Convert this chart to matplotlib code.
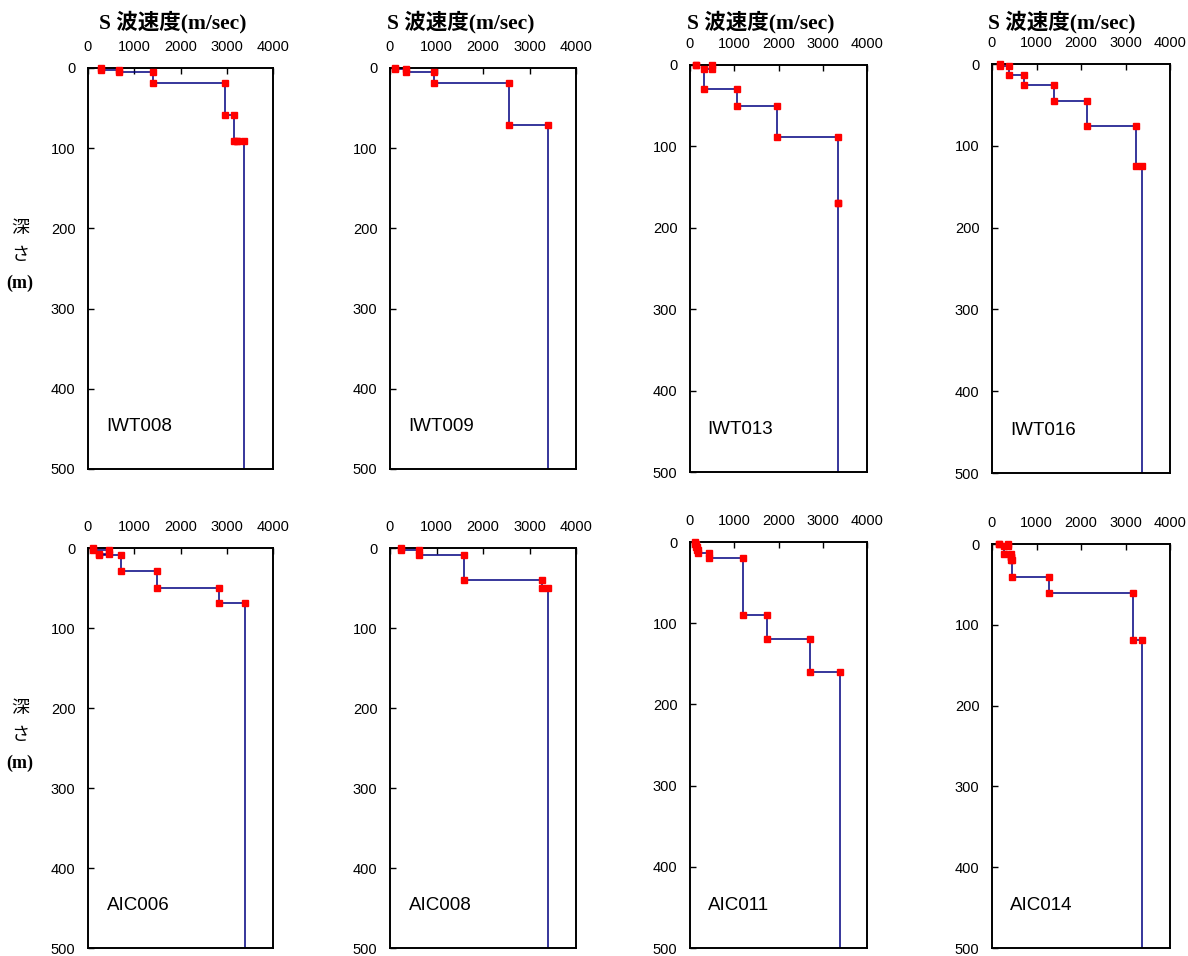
import matplotlib
matplotlib.use("Agg")
import matplotlib.pyplot as plt

plt.rcParams['font.family'] = ['Liberation Sans', 'Noto Sans CJK JP']

# S-wave logging: layer velocities (m/sec) and layer boundaries (m)
stations = ['IWT008', 'IWT009', 'IWT013', 'IWT016',
            'AIC006', 'AIC008', 'AIC011', 'AIC014']

iwt008_vs = [290, 680, 1400, 2960, 3150, 3220, 3380]
iwt008_depth = [0, 2, 5, 18.5, 59, 91, 91.5, 500]

iwt009_vs = [110, 350, 955, 2550, 3390]
iwt009_depth = [0, 1.7, 5, 18.5, 70.5, 500]

iwt013_vs = [140, 490, 317, 1060, 1960, 3350, 3350]
iwt013_depth = [0, 0.5, 5, 30, 50, 89, 170, 500]

iwt016_vs = [188, 375, 713, 1388, 2139, 3227, 3370]
iwt016_depth = [0, 2.8, 14, 25.5, 45, 75.7, 124.3, 500]

aic006_vs = [100, 450, 230, 715, 1490, 2830, 3390]
aic006_depth = [0, 2, 7, 8.5, 28.7, 49.8, 69.2, 500]

aic008_vs = [230, 618, 1587, 3260, 3390]
aic008_depth = [0, 3, 9.2, 39.5, 49.6, 500]

aic011_vs = [110, 130, 160, 175, 438, 1192, 1736, 2702, 3396]
aic011_depth = [0, 2, 6, 10, 13.6, 19.5, 89.3, 119.3, 160.5, 500]

aic014_vs = [157, 360, 263, 420, 436, 445, 1280, 3160, 3377]
aic014_depth = [0, 0.5, 2, 12, 16, 20, 40.5, 60.4, 119.2, 500]

profiles = [(iwt008_vs, iwt008_depth), (iwt009_vs, iwt009_depth),
            (iwt013_vs, iwt013_depth), (iwt016_vs, iwt016_depth),
            (aic006_vs, aic006_depth), (aic008_vs, aic008_depth),
            (aic011_vs, aic011_depth), (aic014_vs, aic014_depth)]

vs_ticks = [0, 1000, 2000, 3000, 4000]
depth_ticks = [0, 100, 200, 300, 400, 500]

W, H = 1188, 956
# axes boxes in pixels: left, right, top, bottom
boxes = [(88, 273, 68, 469), (390, 576, 68, 469),
         (690, 867, 65, 472), (992, 1170, 64, 473),
         (88, 273, 548, 948), (390, 576, 548, 948),
         (690, 867, 542, 948), (992, 1170, 544, 948)]
title_x = [173, 461, 761, 1062]


def steps(vs, depth):
    x, y = [], []
    for i, v in enumerate(vs):
        x += [v, v]
        y += [depth[i], depth[i + 1]]
    return x, y


fig = plt.figure(figsize=(W / 100, H / 100), dpi=100)

for i, (name, (vs, depth), (l, r, t, b)) in enumerate(zip(stations, profiles, boxes)):
    ax = fig.add_axes([l / W, 1 - b / H, (r - l) / W, (b - t) / H])
    x, y = steps(vs, depth)
    ax.plot(x, y, color='#000080', lw=1.1, zorder=2)
    ax.plot(x[:-1], y[:-1], 's', color='red', mec='red', ms=4.5,
            zorder=3, clip_on=False)
    ax.set_xlim(0, 4000)
    ax.set_ylim(500, 0)
    ax.set_xticks(vs_ticks)
    ax.set_yticks(depth_ticks)
    ax.xaxis.tick_top()
    ax.tick_params(axis='x', direction='in', length=4, width=1,
                   labelsize=10.5, pad=10)
    ax.tick_params(axis='y', direction='in', length=4, width=1,
                   labelsize=10.5, pad=9)
    for s in ax.spines.values():
        s.set_linewidth(1.4)
    ax.text(0.1, 0.105, name, transform=ax.transAxes, fontsize=13.5,
            ha='left', va='center')
    if i < 4:
        fig.text(title_x[i] / W, 1 - 22 / H, 'S 波速度(m/sec)',
                 family=['Liberation Serif', 'Noto Sans CJK JP'],
                 weight='bold', fontsize=15.5, ha='center', va='center')

# vertical-stacked depth label for each row
for y0 in (228, 708):
    fig.text(20 / W, 1 - y0 / H, '深', fontsize=13, ha='center', va='center',
             family=['Noto Sans CJK JP'])
    fig.text(20 / W, 1 - (y0 + 27) / H, 'さ', fontsize=13, ha='center',
             va='center', family=['Noto Sans CJK JP'])
    fig.text(20 / W, 1 - (y0 + 55) / H, '(m)', fontsize=13, ha='center',
             va='center', family=['Liberation Serif'], weight='bold')

fig.savefig('out.png', dpi=100)
